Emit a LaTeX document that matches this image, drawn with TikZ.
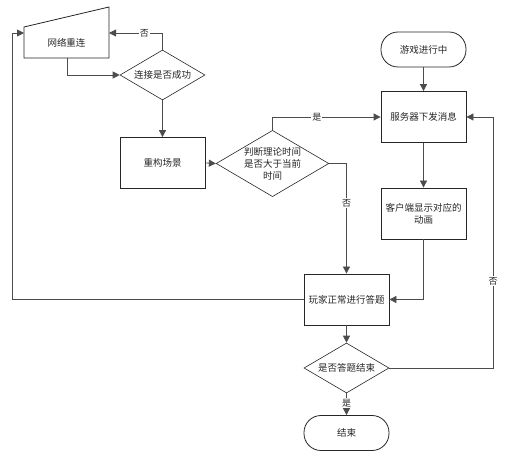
\documentclass[tikz,border=0pt]{standalone}
\usepackage{fontspec}
\setmainfont{Noto Sans CJK SC}
\usetikzlibrary{arrows.meta,shapes.geometric,calc}
\begin{document}
\begin{tikzpicture}[x=1pt,y=-1pt,
  every node/.style={font=\fontsize{9.5}{12}\selectfont, text=black!85},
  boxnode/.style={draw=black!85, line width=0.8pt, minimum width=85pt, minimum height=51pt, inner sep=0pt, align=center},
  termnode/.style={draw=black!85, line width=0.8pt, rounded corners=17pt, minimum width=85pt, minimum height=35pt, inner sep=0pt},
  decnode/.style={draw=black!85, line width=0.6pt, diamond, aspect=1.7, minimum width=85pt, minimum height=50pt, inner sep=0pt, align=center},
  conn/.style={draw=black!70, line width=0.8pt, -{Triangle[length=7pt,width=7pt]}},
  lbl/.style={fill=white, inner sep=1pt, font=\fontsize{9}{10}\selectfont}
]
\useasboundingbox (0,0) rectangle (515,457);
% manual input shape
\node[inner sep=0pt, minimum width=85pt, minimum height=51pt] (net) at (66.5,32.5) {};
\draw[black!85, line width=0.8pt] (24,27) -- (109,7) -- (109,58) -- (24,58) -- cycle;
\node at (66.5,43) {网络重连};
\coordinate (netL) at (24,33);
\coordinate (netR) at (109,33);
\coordinate (netB) at (67,58);

\node[decnode] (conn) at (162.5,75) {连接是否成功};
\node[boxnode] (rebuild) at (162.5,163) {重构场景};
\node[decnode] (judge) at (272.5,163.5) {判断理论时间\\是否大于当前\\时间};
\node[termnode] (game) at (423.5,49.5) {游戏进行中};
\node[boxnode] (server) at (423.5,117) {服务器下发消息};
\node[boxnode] (client) at (423.5,213.5) {客户端显示对应的\\动画};
\node[boxnode] (player) at (346.5,299.5) {玩家正常进行答题};
\node[decnode] (over) at (346.5,368) {是否答题结束};
\node[termnode] (finish) at (346.5,433) {结束};

% connectors
\draw[conn] (netB) |- (conn.west);
\draw[conn] (conn.north) |- node[lbl, pos=0.67] {否} (netR);
\draw[conn] (conn.south) -- (rebuild.north);
\draw[conn] (rebuild.east) -- (judge.west);
\draw[conn] (judge.north) |- node[lbl, pos=0.705] {是} (server.west);
\draw[conn] (judge.east) -| node[lbl, pos=0.68] {否} (player.north);
\draw[conn] (game.south) -- (server.north);
\draw[conn] (server.south) -- (client.north);
\draw[conn] (client.south) |- (player.east);
\draw[conn] (player.west) -- (12,299.5) |- (netL);
\draw[conn] (player.south) -- (over.north);
\draw[conn] (over.east) -- (493,368) node[lbl, pos=1, yshift=87pt] {否} |- (server.east);
\draw[conn] (over.south) -- node[lbl, pos=0.45] {是} (finish.north);
\end{tikzpicture}
\end{document}
